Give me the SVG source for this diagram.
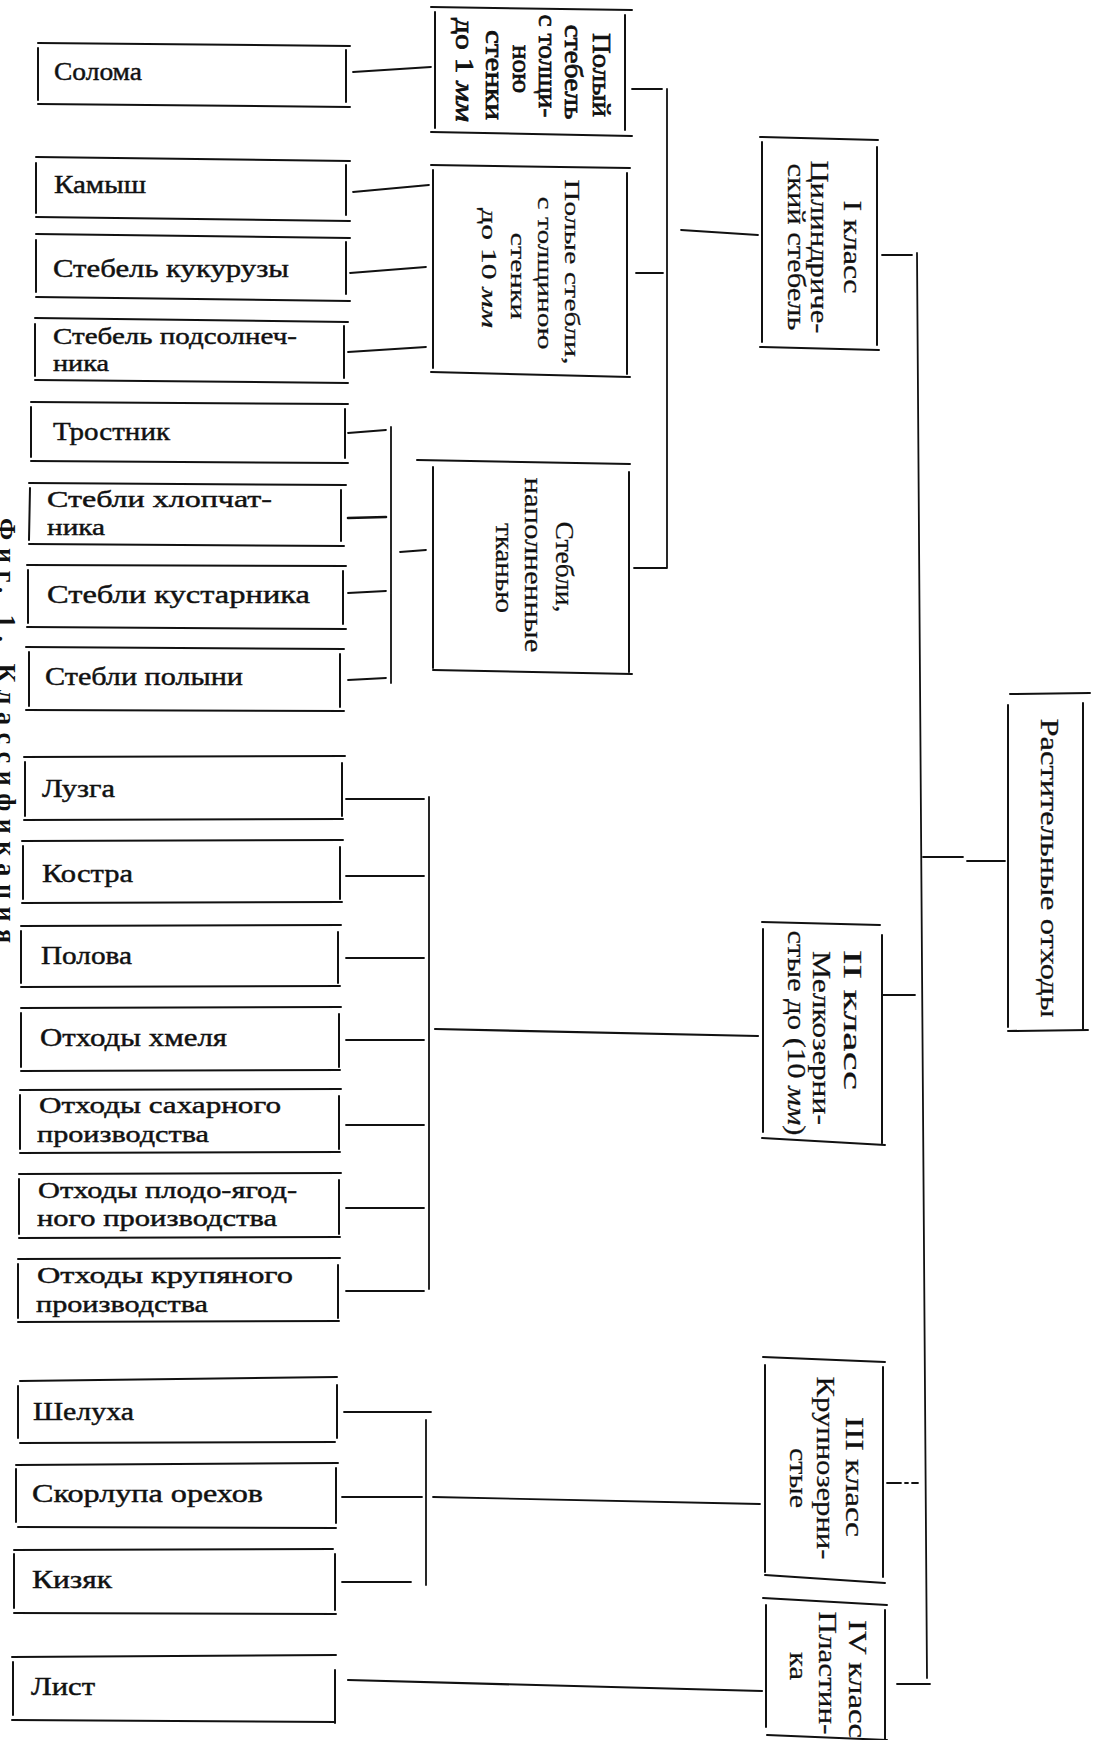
<svg xmlns="http://www.w3.org/2000/svg" width="1104" height="1740" viewBox="0 0 1104 1740">
<style>
.bx{fill:none;stroke:#111;stroke-width:2;stroke-linecap:round}
.cn{fill:none;stroke:#111;stroke-width:1.8;stroke-linecap:round}
.t{font-family:"Liberation Serif","DejaVu Serif",serif;font-size:26px;fill:#111;stroke:#111;stroke-width:0.45}
.t2{font-size:24px}
.r{font-family:"Liberation Serif","DejaVu Serif",serif;font-size:25px;fill:#111;text-anchor:middle;stroke:#111;stroke-width:0.25}
.rb{stroke-width:0.7}
.s22{font-size:22px}
.i{font-style:italic}
.cap{font-family:"Liberation Serif","DejaVu Serif",serif;font-size:26px;font-weight:bold;fill:#111}
</style>
<rect width="1104" height="1740" fill="#fff"/>

<g id="connectors">
<path class="cn" d="M353,72 L431,67 M353,192 L429,185 M350,273 L426,267 M348,352 L426,347"/>
<path class="cn" d="M348,433 L386,430 M348,593 L386,591 M348,680 L386,678 M391,427 L391,683 M400,552 L426,550"/>
<path class="cn" style="stroke-width:2.6" d="M348,518 L386,517"/>
<path class="cn" d="M632,89 L662,89 M636,273 L663,273 M634,568 L667,568 M667,89 L667,568"/>
<path class="cn" d="M681,230 L758,235 M882,255 L912,255 M917,253 L927,1678"/>
<path class="cn" d="M923,857 L963,857 M967,861 L1005,861 M883,995 L915,995"/>
<path class="cn" d="M346,799 L424,799 M346,876 L424,876 M346,958 L424,958 M346,1040 L424,1040 M346,1125 L424,1125 M346,1208 L424,1208 M346,1291 L424,1291 M429,797 L429,1289"/>
<path class="cn" style="stroke-width:2.2" d="M435,1029 L758,1036"/>
<path class="cn" d="M344,1412 L431,1412 M342,1497 L422,1497 M342,1582 L411,1582 M426,1420 L426,1585 M433,1497 L760,1504"/>
<path class="cn" style="stroke-dasharray:14 4 3 4" d="M887,1483 L918,1483"/>
<path class="cn" style="stroke-width:2.2" d="M348,1680 L762,1691"/>
<path class="cn" d="M897,1684 L930,1684"/>
</g>

<g id="n-soloma"><path class="bx" d="M38,43 L350,46 M38,104 L350,107 M38,48 L38,100 M346,50 L346,102"/><text class="t" x="54" y="80" textLength="88" lengthAdjust="spacingAndGlyphs">Солома</text></g>
<g id="n-kamysh"><path class="bx" d="M36,157 L350,161 M36,217 L350,221 M36,163 L36,213 M346,165 L346,215"/><text class="t" x="54" y="193" textLength="92" lengthAdjust="spacingAndGlyphs">Камыш</text></g>
<g id="n-kukuruza"><path class="bx" d="M36,234 L350,238 M36,297 L350,301 M36,240 L36,292 M346,242 L346,294"/><text class="t" x="53" y="277" textLength="236" lengthAdjust="spacingAndGlyphs">Стебель кукурузы</text></g>
<g id="n-podsolnechnik"><path class="bx" d="M35,318 L348,322 M35,380 L348,383 M35,324 L35,376 M344,326 L344,378"/><text class="t t2" x="53" y="344" textLength="244" lengthAdjust="spacingAndGlyphs">Стебель подсолнеч-</text><text class="t t2" x="53" y="371" textLength="56" lengthAdjust="spacingAndGlyphs">ника</text></g>
<g id="n-trostnik"><path class="bx" d="M31,402 L348,404 M31,461 L348,463 M31,407 L31,457 M345,409 L345,458"/><text class="t" x="53" y="440" textLength="117" lengthAdjust="spacingAndGlyphs">Тростник</text></g>
<g id="n-khlopchatnik"><path class="bx" d="M29,483 L346,485 M29,544 L344,546 M30,488 L29,540 M341,490 L341,541"/><text class="t t2" x="47" y="507" textLength="225" lengthAdjust="spacingAndGlyphs">Стебли  хлопчат-</text><text class="t t2" x="47" y="535" textLength="58" lengthAdjust="spacingAndGlyphs">ника</text></g>
<g id="n-kustarnik"><path class="bx" d="M27,565 L346,566 M27,627 L346,629 M28,570 L28,623 M343,571 L343,624"/><text class="t" x="47" y="603" textLength="263" lengthAdjust="spacingAndGlyphs">Стебли  кустарника</text></g>
<g id="n-polyn"><path class="bx" d="M26,647 L344,649 M26,710 L344,711 M29,652 L29,706 M340,654 L340,707"/><text class="t" x="45" y="685" textLength="198" lengthAdjust="spacingAndGlyphs">Стебли полыни</text></g>

<g id="n-luzga"><path class="bx" d="M24,757 L345,756 M24,820 L343,819 M25,762 L25,816 M342,763 L342,816"/><text class="t" x="42" y="797" textLength="73" lengthAdjust="spacingAndGlyphs">Лузга</text></g>
<g id="n-kostra"><path class="bx" d="M22,841 L343,840 M22,903 L342,902 M23,846 L23,899 M340,847 L340,899"/><text class="t" x="42" y="882" textLength="91" lengthAdjust="spacingAndGlyphs">Костра</text></g>
<g id="n-polova"><path class="bx" d="M21,926 L341,925 M21,987 L340,986 M21,931 L21,983 M338,932 L338,983"/><text class="t" x="41" y="964" textLength="91" lengthAdjust="spacingAndGlyphs">Полова</text></g>
<g id="n-khmel"><path class="bx" d="M21,1008 L341,1007 M21,1071 L340,1070 M21,1013 L21,1067 M339,1014 L339,1067"/><text class="t" x="40" y="1046" textLength="187" lengthAdjust="spacingAndGlyphs">Отходы хмеля</text></g>
<g id="n-sakhar"><path class="bx" d="M20,1090 L341,1089 M20,1153 L340,1152 M20,1095 L20,1149 M339,1096 L339,1149"/><text class="t t2" x="39" y="1113" textLength="242" lengthAdjust="spacingAndGlyphs">Отходы сахарного</text><text class="t t2" x="37" y="1142" textLength="172" lengthAdjust="spacingAndGlyphs">производства</text></g>
<g id="n-plodo"><path class="bx" d="M19,1174 L341,1173 M19,1238 L340,1237 M19,1179 L19,1234 M339,1180 L339,1234"/><text class="t t2" x="38" y="1198" textLength="259" lengthAdjust="spacingAndGlyphs">Отходы плодо-ягод-</text><text class="t t2" x="37" y="1226" textLength="240" lengthAdjust="spacingAndGlyphs">ного производства</text></g>
<g id="n-krupa"><path class="bx" d="M18,1259 L340,1258 M18,1322 L339,1321 M18,1264 L18,1318 M338,1265 L338,1318"/><text class="t t2" x="37" y="1283" textLength="256" lengthAdjust="spacingAndGlyphs">Отходы  крупяного</text><text class="t t2" x="36" y="1312" textLength="172" lengthAdjust="spacingAndGlyphs">производства</text></g>

<g id="n-shelukha"><path class="bx" d="M20,1381 L337,1377 M20,1443 L335,1442 M18,1386 L18,1438 M337,1385 L337,1438"/><text class="t" x="33" y="1420" textLength="101" lengthAdjust="spacingAndGlyphs">Шелуха</text></g>
<g id="n-skorlupa"><path class="bx" d="M16,1465 L338,1463 M18,1527 L336,1528 M16,1469 L16,1522 M336,1468 L336,1523"/><text class="t" x="32" y="1502" textLength="231" lengthAdjust="spacingAndGlyphs">Скорлупа  орехов</text></g>
<g id="n-kizyak"><path class="bx" d="M14,1550 L333,1549 M14,1613 L336,1614 M14,1554 L14,1608 M335,1554 L335,1610"/><text class="t" x="32" y="1588" textLength="80" lengthAdjust="spacingAndGlyphs">Кизяк</text></g>
<g id="n-list"><path class="bx" d="M12,1657 L336,1655 M12,1720 L335,1722 M13,1662 L13,1715 M335,1670 L335,1723"/><text class="t" x="31" y="1695" textLength="64" lengthAdjust="spacingAndGlyphs">Лист</text></g>

<g id="n-polyi"><path class="bx" d="M431,7 L632,10 M431,132 L632,136 M435,12 L435,128 M625,15 L625,130"/>
<text class="r rb" transform="translate(593,75) rotate(90)" textLength="84" lengthAdjust="spacingAndGlyphs">Полый</text>
<text class="r rb" transform="translate(565,72) rotate(90)" textLength="95" lengthAdjust="spacingAndGlyphs">стебель</text>
<text class="r rb" transform="translate(539,66) rotate(90)" textLength="103" lengthAdjust="spacingAndGlyphs">с толщи-</text>
<text class="r rb" transform="translate(513,69) rotate(90)" textLength="48" lengthAdjust="spacingAndGlyphs">ною</text>
<text class="r rb" transform="translate(486,75) rotate(90)" textLength="90" lengthAdjust="spacingAndGlyphs">стенки</text>
<text class="r rb" transform="translate(456,70) rotate(90)" textLength="104" lengthAdjust="spacingAndGlyphs">до 1 <tspan class="i">мм</tspan></text>
</g>
<g id="n-polye"><path class="bx" d="M431,165 L630,168 M431,372 L630,377 M433,170 L433,368 M627,173 L627,374"/>
<text class="r s22" transform="translate(565,272) rotate(90)" textLength="185" lengthAdjust="spacingAndGlyphs">Полые стебли,</text>
<text class="r s22" transform="translate(538,273) rotate(90)" textLength="153" lengthAdjust="spacingAndGlyphs">с толщиною</text>
<text class="r s22" transform="translate(511,276) rotate(90)" textLength="87" lengthAdjust="spacingAndGlyphs">стенки</text>
<text class="r s22" transform="translate(482,268) rotate(90)" textLength="120" lengthAdjust="spacingAndGlyphs">до 10 <tspan class="i">мм</tspan></text>
</g>
<g id="n-napolnennye"><path class="bx" d="M417,460 L630,464 M433,670 L632,674 M433,467 L433,668 M629,472 L629,672"/>
<text class="r" transform="translate(556,567) rotate(90)" textLength="91" lengthAdjust="spacingAndGlyphs">Стебли,</text>
<text class="r" transform="translate(525,565) rotate(90)" textLength="175" lengthAdjust="spacingAndGlyphs">наполненные</text>
<text class="r" transform="translate(496,568) rotate(90)" textLength="90" lengthAdjust="spacingAndGlyphs">тканью</text>
</g>

<g id="n-class1"><path class="bx" d="M760,137 L878,140 M760,347 L879,350 M762,142 L762,342 M877,147 L877,345"/>
<text class="r" transform="translate(844,247) rotate(90)" textLength="93" lengthAdjust="spacingAndGlyphs">I класс</text>
<text class="r" transform="translate(811,247) rotate(90)" textLength="173" lengthAdjust="spacingAndGlyphs">Цилиндриче-</text>
<text class="r" transform="translate(788,247) rotate(90)" textLength="167" lengthAdjust="spacingAndGlyphs">ский стебель</text>
</g>
<g id="n-class2"><path class="bx" d="M762,922 L880,925 M762,1138 L885,1145 M763,929 L763,1132 M882,935 L882,1143"/>
<text class="r" transform="translate(844,1020) rotate(90)" textLength="140" lengthAdjust="spacingAndGlyphs">II класс</text>
<text class="r" transform="translate(813,1038) rotate(90)" textLength="174" lengthAdjust="spacingAndGlyphs">Мелкозерни-</text>
<text class="r" transform="translate(788,1033) rotate(90)" textLength="205" lengthAdjust="spacingAndGlyphs">стые до (10 <tspan class="i">мм</tspan>)</text>
</g>
<g id="n-class3"><path class="bx" d="M763,1357 L885,1362 M765,1575 L885,1583 M765,1365 L765,1572 M883,1367 L883,1577"/>
<text class="r" transform="translate(846,1477) rotate(90)" textLength="120" lengthAdjust="spacingAndGlyphs">III класс</text>
<text class="r" transform="translate(817,1468) rotate(90)" textLength="183" lengthAdjust="spacingAndGlyphs">Крупнозерни-</text>
<text class="r" transform="translate(790,1478) rotate(90)" textLength="60" lengthAdjust="spacingAndGlyphs">стые</text>
</g>
<g id="n-class4"><path class="bx" d="M763,1598 L887,1605 M767,1735 L887,1740 M766,1605 L766,1727 M885,1610 L885,1740"/>
<text class="r" transform="translate(849,1679) rotate(90)" textLength="118" lengthAdjust="spacingAndGlyphs">IV класс</text>
<text class="r" transform="translate(819,1673) rotate(90)" textLength="123" lengthAdjust="spacingAndGlyphs">Пластин-</text>
<text class="r" transform="translate(790,1666) rotate(90)" textLength="28" lengthAdjust="spacingAndGlyphs">ка</text>
</g>
<g id="n-root"><path class="bx" d="M1010,694 L1090,693 M1008,1031 L1088,1030 M1008,705 L1008,1027 M1083,703 L1083,1029"/>
<text class="r" style="font-size:26px" transform="translate(1041,868) rotate(90)" textLength="299" lengthAdjust="spacingAndGlyphs">Растительные  отходы</text>
</g>

<text class="cap" transform="translate(-2,518) rotate(90)" textLength="425" lengthAdjust="spacing">Фиг. 1. Классификация</text>
</svg>
